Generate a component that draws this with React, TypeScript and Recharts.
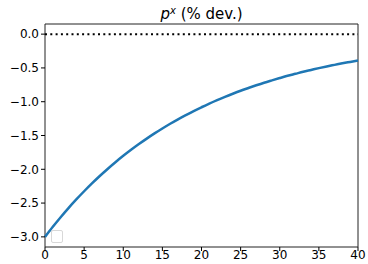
import React from 'react';
import { LineChart, Line, XAxis, YAxis, ReferenceLine, ReferenceArea } from 'recharts';

// horizon (quarters) and response of p^x
const periods = [
  0, 1, 2, 3, 4, 5, 6, 7, 8, 9, 10, 11, 12, 13, 14, 15, 16, 17, 18, 19, 20,
  21, 22, 23, 24, 25, 26, 27, 28, 29, 30, 31, 32, 33, 34, 35, 36, 37, 38, 39, 40,
];
const pxDev = [
  -3.0, -2.851, -2.709, -2.574, -2.446, -2.325, -2.209, -2.099, -1.995, -1.896, -1.801,
  -1.712, -1.627, -1.546, -1.469, -1.396, -1.326, -1.26, -1.198, -1.138, -1.082,
  -1.028, -0.977, -0.928, -0.882, -0.838, -0.797, -0.757, -0.719, -0.684, -0.65,
  -0.617, -0.587, -0.557, -0.53, -0.503, -0.478, -0.455, -0.432, -0.411, -0.39,
];
const xTicks = [0, 5, 10, 15, 20, 25, 30, 35, 40];
const yTicks = [0, -0.5, -1, -1.5, -2, -2.5, -3];

const data = periods.map((t, i) => ({ t, px: pxDev[i] }));

const FONT = '"DejaVu Sans", sans-serif';
const fmtY = (v: number) => (v < 0 ? '\u2212' + Math.abs(v).toFixed(1) : v.toFixed(1));

export default function App() {
  return (
    <div style={{ position: 'absolute', left: 0, top: 0, width: 368, height: 264, background: '#fff', fontFamily: FONT }}>
      <div style={{ position: 'absolute', top: 1, left: 45, width: 313, textAlign: 'center', fontSize: 15, lineHeight: '20px', color: '#000' }}>
        <i>p</i>
        <sup style={{ fontSize: 10, fontStyle: 'italic', verticalAlign: 5 }}>x</sup> (% dev.)
      </div>
      <LineChart width={368} height={264} data={data} margin={{ top: 24, right: 10, bottom: 0, left: 0 }}>
        <XAxis
          dataKey="t"
          type="number"
          domain={[0, 40]}
          ticks={xTicks}
          interval={0}
          height={17}
          tickLine={{ stroke: '#000' }}
          tickSize={4}
          axisLine={false}
          tick={{ fill: '#000', fontSize: 12, fontFamily: FONT, dy: -3 }}
        />
        <YAxis
          type="number"
          domain={[-3.15, 0.15]}
          ticks={yTicks}
          interval={0}
          width={45}
          tickFormatter={fmtY}
          tickLine={{ stroke: '#000' }}
          tickSize={4}
          axisLine={false}
          tick={{ fill: '#000', fontSize: 12, fontFamily: FONT }}
        />
        <ReferenceArea x1={0} x2={40} y1={-3.15} y2={0.15} fill="none" stroke="#222" strokeWidth={1} ifOverflow="visible" />
        <ReferenceLine y={0} stroke="#000" strokeWidth={2} strokeDasharray="2 3.3" />
        <Line type="monotone" dataKey="px" stroke="#1f77b4" strokeWidth={2.5} dot={false} isAnimationActive={false} />
      </LineChart>
      {/* empty legend box, as matplotlib leaves it */}
      <div style={{ position: 'absolute', left: 51, top: 230, width: 10, height: 11, border: '1px solid #d8d8d8', borderRadius: 2, background: 'rgba(255,255,255,0.8)' }} />
    </div>
  );
}
